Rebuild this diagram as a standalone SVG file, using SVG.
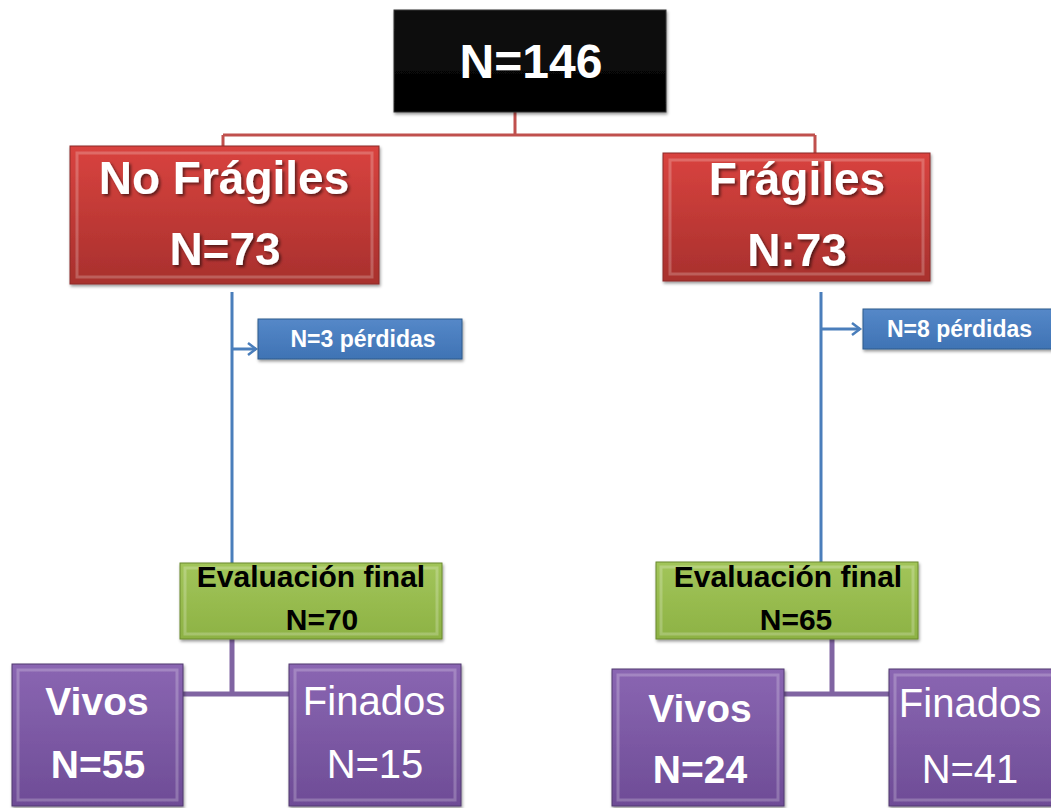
<svg xmlns="http://www.w3.org/2000/svg" width="1051" height="808" viewBox="0 0 1051 808">
<style>
.t{font-family:"Liberation Sans",Arial,sans-serif;text-anchor:middle}
.b{font-weight:bold}
.w{fill:#ffffff}
.k{fill:#000000}
.red{fill:url(#gRed);stroke:#8c2a28;stroke-width:1}
.blk{fill:url(#gBlk);stroke:#333;stroke-width:1}
.grn{fill:url(#gGrn);stroke:#6b8a2e;stroke-width:1}
.pur{fill:url(#gPur);stroke:#503a6e;stroke-width:1}
.blu{fill:url(#gBlu);stroke:#2f5a8c;stroke-width:1}
.bev{fill:none;stroke:#ffffff;stroke-opacity:0.22;stroke-width:3}
.cr{stroke:#c0504d;stroke-width:3;fill:none}
.cb{stroke:#4a7ebb;stroke-width:3;fill:none}
.cp{stroke:#8064a2;stroke-width:5;fill:none}
</style>
<defs>
<linearGradient id="gRed" x1="0" y1="0" x2="0" y2="1"><stop offset="0" stop-color="#d9433f"/><stop offset="1" stop-color="#a8302d"/></linearGradient>
<linearGradient id="gBlk" x1="0" y1="0" x2="0" y2="1"><stop offset="0" stop-color="#111"/><stop offset="1" stop-color="#000"/></linearGradient>
<linearGradient id="gGrn" x1="0" y1="0" x2="0" y2="1"><stop offset="0" stop-color="#a2c55a"/><stop offset="1" stop-color="#8db244"/></linearGradient>
<linearGradient id="gPur" x1="0" y1="0" x2="0" y2="1"><stop offset="0" stop-color="#8a66b2"/><stop offset="1" stop-color="#6e4c96"/></linearGradient>
<linearGradient id="gBlu" x1="0" y1="0" x2="0" y2="1"><stop offset="0" stop-color="#5588c8"/><stop offset="1" stop-color="#3f73b4"/></linearGradient>
<filter id="sh" x="-10%" y="-10%" width="130%" height="130%"><feDropShadow dx="2" dy="2" stdDeviation="1.5" flood-color="#000" flood-opacity="0.55"/></filter>
<filter id="bx" x="-5%" y="-5%" width="115%" height="120%"><feDropShadow dx="1" dy="2" stdDeviation="1.5" flood-color="#000" flood-opacity="0.4"/></filter>
<marker id="ar" markerWidth="14" markerHeight="14" refX="10" refY="7" orient="auto" markerUnits="userSpaceOnUse"><path d="M2,1 L10,7 L2,13" fill="none" stroke="#4a7ebb" stroke-width="2.5"/></marker>
</defs>
<rect width="1051" height="808" fill="#ffffff"/>
<g id="connectors">
<path class="cr" d="M515,112 V135 M223,135 H815 M223,135 V146 M815,135 V153"/>
<path class="cb" d="M232,292 V563"/>
<path class="cb" d="M232,349 H256" marker-end="url(#ar)"/>
<path class="cb" d="M821,292 V563"/>
<path class="cb" d="M821,329 H860" marker-end="url(#ar)"/>
<path class="cp" d="M232,639 V694 M180,694 H290"/>
<path class="cp" d="M832,639 V694 M784,694 H890"/>
</g>
<g id="n146">
<rect class="blk" x="394" y="10" width="272" height="102" filter="url(#bx)"/>
<text class="t b w" x="531" y="78" font-size="48">N=146</text>
</g>
<g id="nofragiles">
<rect class="red" x="70" y="146" width="309" height="138" filter="url(#bx)"/>
<rect class="bev" x="77" y="153" width="295" height="124"/>
<text class="t b w" x="224" y="194" font-size="46" filter="url(#sh)">No Frágiles</text>
<text class="t b w" x="225" y="265" font-size="46" filter="url(#sh)">N=73</text>
</g>
<g id="fragiles">
<rect class="red" x="663" y="153" width="267" height="128" filter="url(#bx)"/>
<rect class="bev" x="670" y="160" width="253" height="114"/>
<text class="t b w" x="797" y="195" font-size="46" filter="url(#sh)">Frágiles</text>
<text class="t b w" x="797" y="266" font-size="46" filter="url(#sh)">N:73</text>
</g>
<g id="perd3">
<rect class="blu" x="258" y="319" width="204" height="40" filter="url(#bx)"/>
<text class="t b w" x="363" y="347" font-size="23">N=3 pérdidas</text>
</g>
<g id="perd8">
<rect class="blu" x="863" y="309" width="200" height="40" filter="url(#bx)"/>
<text x="887" y="337" font-size="23" class="b w" font-family="Liberation Sans, Arial, sans-serif">N=8 pérdidas</text>
</g>
<g id="eval70">
<rect class="grn" x="180" y="563" width="262" height="76" filter="url(#bx)"/>
<rect class="bev" x="185" y="568" width="252" height="66"/>
<text class="t b k" x="311" y="587" font-size="30">Evaluación final</text>
<text class="t b k" x="322" y="630" font-size="30">N=70</text>
</g>
<g id="eval65">
<rect class="grn" x="656" y="562" width="262" height="77" filter="url(#bx)"/>
<rect class="bev" x="661" y="567" width="252" height="67"/>
<text class="t b k" x="788" y="587" font-size="30">Evaluación final</text>
<text class="t b k" x="796" y="630" font-size="30">N=65</text>
</g>
<g id="vivos55">
<rect class="pur" x="12" y="664" width="171" height="142" filter="url(#bx)"/>
<rect class="bev" x="18" y="670" width="159" height="130"/>
<text class="t b w" x="97" y="715" font-size="39">Vivos</text>
<text class="t b w" x="98" y="778" font-size="39">N=55</text>
</g>
<g id="finados15">
<rect class="pur" x="289" y="664" width="172" height="142" filter="url(#bx)"/>
<rect class="bev" x="295" y="670" width="160" height="130"/>
<text class="t w" x="374" y="715" font-size="40">Finados</text>
<text class="t w" x="375" y="778" font-size="40">N=15</text>
</g>
<g id="vivos24">
<rect class="pur" x="612" y="669" width="172" height="137" filter="url(#bx)"/>
<rect class="bev" x="618" y="675" width="160" height="125"/>
<text class="t b w" x="700" y="722" font-size="39">Vivos</text>
<text class="t b w" x="700" y="783" font-size="39">N=24</text>
</g>
<g id="finados41">
<rect class="pur" x="889" y="669" width="172" height="137" filter="url(#bx)"/>
<rect class="bev" x="895" y="675" width="160" height="125"/>
<text class="t w" x="970" y="717" font-size="40">Finados</text>
<text class="t w" x="970" y="783" font-size="40">N=41</text>
</g>
</svg>
